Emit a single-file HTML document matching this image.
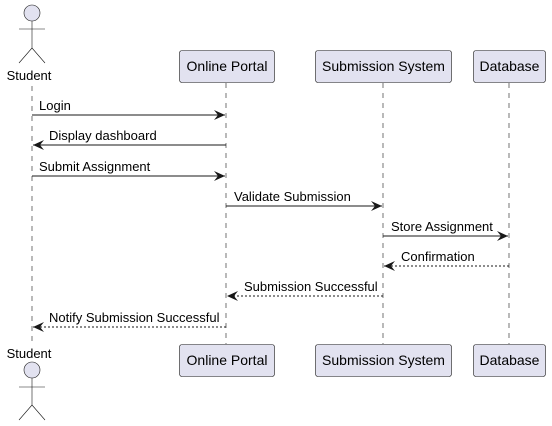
<!DOCTYPE html>
<html><head><meta charset="utf-8"><style>
html,body{margin:0;padding:0;background:#fff;}
svg{display:block;}
text{font-family:"Liberation Sans",sans-serif;font-size:13px;fill:#000;}
</style></head><body>
<svg width="552" height="426" viewBox="0 0 552 426" xmlns="http://www.w3.org/2000/svg">
<defs>
<marker id="a" markerWidth="12" markerHeight="10" refX="11" refY="5" orient="auto" markerUnits="userSpaceOnUse">
<path d="M0,0 L11,5 L0,10 L4,5 Z" fill="#181818"/>
</marker>
</defs>
<g stroke="#181818" stroke-width="0.6" stroke-dasharray="5,5">
<line x1="32" y1="86" x2="32" y2="344"/>
<line x1="226" y1="83" x2="226" y2="344"/>
<line x1="383" y1="83" x2="383" y2="344"/>
<line x1="509" y1="83" x2="509" y2="344"/>
</g>
<!-- actors -->
<g fill="#E2E2F0" stroke="#181818" stroke-width="0.6">
<circle cx="32" cy="13" r="8"/>
<path d="M32,21 V48 M19,29 H45 M32,48 L19,63 M32,48 L45,63" fill="none"/>
<circle cx="32" cy="370" r="8"/>
<path d="M32,378 V405 M19,387 H45 M32,405 L19,420 M32,405 L45,420" fill="none"/>
</g>
<text x="29" y="80" text-anchor="middle" font-size="14">Student</text>
<text x="29" y="358" text-anchor="middle" font-size="14">Student</text>
<!-- boxes -->
<g fill="#E2E2F0" stroke="#181818" stroke-width="0.6">
<rect x="179.5" y="50.5" width="95" height="32" rx="2.5"/>
<rect x="315.5" y="50.5" width="136" height="32" rx="2.5"/>
<rect x="473.5" y="50.5" width="72" height="32" rx="2.5"/>
<rect x="179.5" y="344.5" width="95" height="32" rx="2.5"/>
<rect x="315.5" y="344.5" width="136" height="32" rx="2.5"/>
<rect x="473.5" y="344.5" width="72" height="32" rx="2.5"/>
</g>
<g font-size="14" text-anchor="middle">
<text x="227" y="71" style="font-size:14px">Online Portal</text>
<text x="383.5" y="71" style="font-size:14px">Submission System</text>
<text x="509.5" y="71" style="font-size:14px">Database</text>
<text x="227" y="365" style="font-size:14px">Online Portal</text>
<text x="383.5" y="365" style="font-size:14px">Submission System</text>
<text x="509.5" y="365" style="font-size:14px">Database</text>
</g>
<!-- messages -->
<g stroke="#181818" stroke-width="1" fill="none">
<line x1="32" y1="115" x2="225" y2="115" marker-end="url(#a)"/>
<line x1="226" y1="145" x2="33" y2="145" marker-end="url(#a)"/>
<line x1="32" y1="176" x2="225" y2="176" marker-end="url(#a)"/>
<line x1="226" y1="206" x2="382" y2="206" marker-end="url(#a)"/>
<line x1="383" y1="236" x2="508" y2="236" marker-end="url(#a)"/>
<line x1="509" y1="266" x2="384" y2="266" stroke-dasharray="2,2" marker-end="url(#a)"/>
<line x1="383" y1="296" x2="227" y2="296" stroke-dasharray="2,2" marker-end="url(#a)"/>
<line x1="226" y1="327" x2="33" y2="327" stroke-dasharray="2,2" marker-end="url(#a)"/>
</g>
<text x="39" y="110">Login</text>
<text x="49" y="140">Display dashboard</text>
<text x="39" y="171">Submit Assignment</text>
<text x="234" y="201">Validate Submission</text>
<text x="391" y="231">Store Assignment</text>
<text x="401" y="261">Confirmation</text>
<text x="244" y="291">Submission Successful</text>
<text x="49" y="322">Notify Submission Successful</text>
</svg>
</body></html>
